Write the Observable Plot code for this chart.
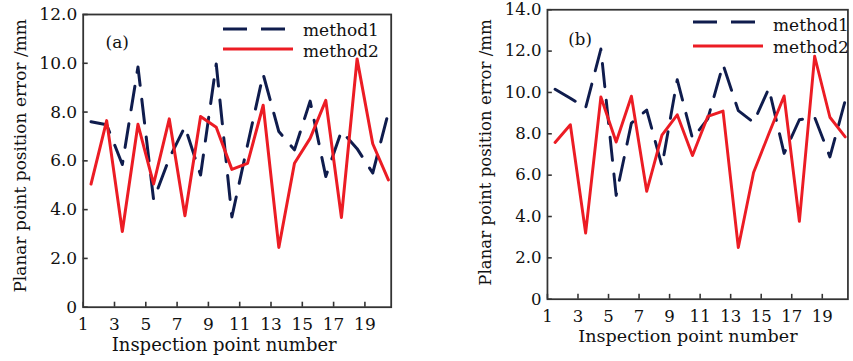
<!DOCTYPE html>
<html>
<head>
<meta charset="utf-8">
<script src="https://cdn.jsdelivr.net/npm/d3@7"></script>
<script src="https://cdn.jsdelivr.net/npm/@observablehq/plot@0.6"></script>
<style>
  html, body { margin: 0; padding: 0; background: #fff; }
  #wrap { position: relative; width: 853px; height: 361px; overflow: hidden; background: #fff; font-family: "DejaVu Serif", serif; color: #111; }
  #pa { position: absolute; left: 0; top: 0; }
  #pb { position: absolute; left: 430px; top: 0; }
  #legend { position: absolute; left: 0; top: 0; }
</style>
</head>
<body>
<div id="wrap">
  <div id="pa"></div>
  <div id="pb"></div>
  <svg id="legend" width="853" height="361"></svg>
</div>
<script>
// ---- data ----
const pointNumbers = [1.5, 2.5, 3.5, 4.5, 5.5, 6.5, 7.5, 8.5, 9.5, 10.5, 11.5, 12.5, 13.5, 14.5, 15.5, 16.5, 17.5, 18.5, 19.5, 20.5];
const xTickValues = [1, 3, 5, 7, 9, 11, 13, 15, 17, 19];
const yTicksA = [0, 2, 4, 6, 8, 10, 12];
const yTicksB = [0, 2, 4, 6, 8, 10, 12, 14];
const seriesNames = ["method1", "method2"];
const panelLabels = ["(a)", "(b)"];
const xTitle = "Inspection point number";
const yTitle = "Planar point position error /mm";

// panel (a)
const method1A = [7.6, 7.48, 5.85, 9.85, 4.4, 6.1, 7.4, 5.42, 9.97, 3.7, 6.65, 9.55, 7.2, 6.45, 8.45, 5.36, 7.22, 6.5, 5.5, 7.98];
const method2A = [5.05, 7.65, 3.1, 7.5, 5.05, 7.72, 3.75, 7.82, 7.38, 5.65, 5.9, 8.28, 2.45, 5.9, 6.92, 8.48, 3.68, 10.18, 6.7, 5.22];
// panel (b)
const method1B = [10.15, 9.72, 9.25, 12.1, 5.02, 8.52, 9.15, 6.44, 10.62, 7.77, 8.72, 11.35, 9.12, 8.55, 10.2, 7.05, 8.68, 8.8, 6.88, 9.6];
const method2B = [7.58, 8.44, 3.2, 9.78, 7.6, 9.82, 5.22, 7.94, 8.92, 6.95, 8.84, 9.1, 2.5, 6.13, 8.0, 9.83, 3.77, 11.75, 8.8, 7.85];

const BLUE = "#0f1c4d";
const RED = "#ec1c24";
const AXIS = "#333";
const FONT = "DejaVu Serif";
const DASH = "24,14";

function rows(vals) { return pointNumbers.map((x, i) => ({x, y: vals[i]})); }
const yFmt = d => d === 0 ? "0" : d.toFixed(1);

function panel({m1, m2, yTicks, yMax, width, marginLeft, marginRight, marginTop, marginBottom, tag, tagDx, tagDy, yDx, yDy, xDx}) {
  return Plot.plot({
    width, height: 361,
    marginLeft, marginRight, marginTop, marginBottom,
    style: {fontFamily: FONT, fontSize: "17px", color: "#111", background: "transparent", overflow: "visible"},
    x: {domain: [1, 20.68], label: null},
    y: {domain: [0, yMax], label: null},
    marks: [
      Plot.line(rows(m1), {x: "x", y: "y", stroke: BLUE, strokeWidth: 3, strokeDasharray: DASH}),
      Plot.line(rows(m2), {x: "x", y: "y", stroke: RED, strokeWidth: 3}),
      Plot.frame({stroke: AXIS, strokeWidth: 1.8}),
      Plot.axisX({ticks: xTickValues, tickSize: -5, tickPadding: 16, tickFormat: d => String(d), fontSize: 17, stroke: AXIS, strokeWidth: 1.6, label: null}),
      Plot.axisY({ticks: yTicks, tickSize: -5, tickPadding: 11, tickFormat: yFmt, fontSize: 17, stroke: AXIS, strokeWidth: 1.6, label: null}),
      Plot.text([tag], {frameAnchor: "top-left", dx: tagDx, dy: tagDy, textAnchor: "middle", fontSize: 17, fill: "#111"}),
      Plot.text([yTitle], {frameAnchor: "left", dx: yDx, dy: yDy, rotate: -90, textAnchor: "middle", fontSize: 17, fill: "#111"}),
      Plot.text([xTitle], {frameAnchor: "bottom", dx: xDx, dy: 43.5, textAnchor: "middle", fontSize: 18, fill: "#111"})
    ]
  });
}

document.getElementById("pa").appendChild(panel({
  m1: method1A, m2: method2A, yTicks: yTicksA, yMax: 12,
  width: 395, marginLeft: 82.7, marginRight: 4.3, marginTop: 14, marginBottom: 54.3,
  tag: panelLabels[0], tagDx: 34, tagDy: 21, yDx: -62.7, yDy: -5, xDx: -13
}));
document.getElementById("pb").appendChild(panel({
  m1: method1B, m2: method2B, yTicks: yTicksB, yMax: 14,
  width: 434, marginLeft: 120, marginRight: 5.7, marginTop: 9.5, marginBottom: 54.5,
  tag: panelLabels[1], tagDx: 33.5, tagDy: 24.5, yDx: -63, yDy: -2, xDx: -10
}));

// ---- legends (inside each panel, top right) ----
const legend = d3.select("#legend");
const legendSpecs = [
  {x0: 223, x1: 287, x1r: 293, y1: 29, y2: 49, tx: 303, b1: 36, b2: 57},
  {x0: 693, x1: 757, x1r: 763, y1: 22, y2: 46, tx: 773, b1: 30.5, b2: 52.5}
];
for (const s of legendSpecs) {
  legend.append("line").attr("x1", s.x0).attr("x2", s.x1).attr("y1", s.y1).attr("y2", s.y1)
    .attr("stroke", BLUE).attr("stroke-width", 3).attr("stroke-dasharray", DASH);
  legend.append("line").attr("x1", s.x0).attr("x2", s.x1r).attr("y1", s.y2).attr("y2", s.y2)
    .attr("stroke", RED).attr("stroke-width", 3);
  legend.append("text").attr("x", s.tx).attr("y", s.b1).attr("font-family", FONT).attr("font-size", 17).attr("fill", "#111").text(seriesNames[0]);
  legend.append("text").attr("x", s.tx).attr("y", s.b2).attr("font-family", FONT).attr("font-size", 17).attr("fill", "#111").text(seriesNames[1]);
}
</script>
</body>
</html>
